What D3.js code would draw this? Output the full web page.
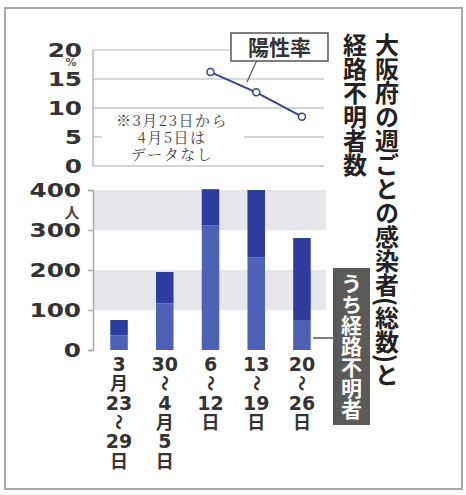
<!DOCTYPE html>
<html>
<head>
<meta charset="utf-8">
<script src="https://cdn.jsdelivr.net/npm/d3@7"></script>
<style>
  body { margin: 0; background: #fff; }
  svg text { font-family: "Noto Sans CJK JP", "DejaVu Sans", sans-serif; }
</style>
</head>
<body>
<svg id="chart" width="466" height="495"></svg>
<script>
// weekly categories (vertical labels, one entry per row)
let weeks = ['3/23-29', '3/30-4/5', '4/6-12', '4/13-19', '4/20-26']
let weekLabels = [
    ['3', '月', '23', '〜', '29', '日'],
    ['30', '〜', '4', '月', '5', '日'],
    ['6', '〜', '12', '日'],
    ['13', '〜', '19', '日'],
    ['20', '〜', '26', '日']
]
let totalCases = [75, 195, 402, 400, 280]
let unknownRoute = [37, 117, 312, 232, 75]
let positiveRate = [null, null, 16.2, 12.7, 8.5]
let rateTicks = [0, 5, 10, 15, 20]
let caseTicks = [0, 100, 200, 300, 400]

let darkBlue = '#2c3d9f'
let lightBlue = '#4d61b6'

let svg = d3.select('#chart')

// frame
svg.append('rect')
    .attr('x', 5).attr('y', 8)
    .attr('width', 457).attr('height', 481)
    .attr('fill', '#fff')
    .attr('stroke', '#a8a8a8')
    .attr('stroke-width', 2)

let x = d3.scaleBand()
    .domain(weeks)
    .range([92, 329])
    .paddingInner(0.617)
    .paddingOuter(0.4)

let yRate = d3.scaleLinear().domain([0, 20]).range([166, 50])
let yCases = d3.scaleLinear().domain([0, 400]).range([350, 190])

// ---- upper panel: positive rate ----
let upper = svg.append('g')

upper.selectAll('line.grid')
    .data(rateTicks)
    .enter().append('line')
    .attr('class', 'grid')
    .attr('x1', 93).attr('x2', 324)
    .attr('y1', d => yRate(d)).attr('y2', d => yRate(d))
    .attr('stroke', d => d >= 15 ? '#c9cbe0' : '#c4c4c4')
    .attr('stroke-width', 1.5)

upper.append('line')
    .attr('x1', 93).attr('x2', 93)
    .attr('y1', yRate(20)).attr('y2', yRate(0))
    .attr('stroke', '#b8b8b8').attr('stroke-width', 1.5)

upper.selectAll('text.tick')
    .data(rateTicks)
    .enter().append('text')
    .attr('class', 'tick')
    .attr('transform', d => 'translate(82,' + (yRate(d) + 7) + ') scale(1.3,1)')
    .attr('text-anchor', 'end')
    .attr('font-size', 19)
    .attr('font-weight', 'bold')
    .attr('fill', '#333')
    .style('font-family', 'DejaVu Sans')
    .text(d => d)

upper.append('text')
    .attr('x', 71).attr('y', 66)
    .attr('text-anchor', 'middle')
    .attr('font-size', 11)
    .attr('font-weight', 'bold')
    .attr('fill', '#555')
    .style('font-family', 'DejaVu Sans')
    .text('%')

// note about missing data
let note = ['※3月23日から', '4月5日は', 'データなし']
let noteG = upper.append('g')
noteG.append('rect')
    .attr('x', 102).attr('y', 110)
    .attr('width', 142).attr('height', 52)
    .attr('fill', '#fff')
noteG.selectAll('text')
    .data(note)
    .enter().append('text')
    .attr('x', 172)
    .attr('y', (d, i) => 126 + i * 17)
    .attr('text-anchor', 'middle')
    .attr('font-size', 15)
    .attr('letter-spacing', 1.5)
    .attr('fill', '#444')
    .style('font-family', '"Noto Serif CJK JP", "Noto Sans CJK JP", serif')
    .text(d => d)

let rateLine = d3.line()
    .defined(d => d.v !== null)
    .x(d => x(d.k) + x.bandwidth() / 2)
    .y(d => yRate(d.v))
let ratePts = weeks.map((k, i) => ({ k: k, v: positiveRate[i] }))

upper.append('path')
    .datum(ratePts)
    .attr('d', rateLine)
    .attr('fill', 'none')
    .attr('stroke', '#34448e')
    .attr('stroke-width', 2)

upper.selectAll('circle')
    .data(ratePts.filter(d => d.v !== null))
    .enter().append('circle')
    .attr('cx', d => x(d.k) + x.bandwidth() / 2)
    .attr('cy', d => yRate(d.v))
    .attr('r', 3.5)
    .attr('fill', '#fff')
    .attr('stroke', '#34448e')
    .attr('stroke-width', 1.5)

// label for the line
upper.append('line')
    .attr('x1', 257).attr('y1', 60)
    .attr('x2', 247).attr('y2', 82)
    .attr('stroke', '#555').attr('stroke-width', 1.2)
upper.append('rect')
    .attr('x', 231).attr('y', 33)
    .attr('width', 97).attr('height', 28)
    .attr('fill', '#fff')
    .attr('stroke', '#555')
    .attr('stroke-width', 1.5)
upper.append('text')
    .attr('x', 279.5).attr('y', 55)
    .attr('text-anchor', 'middle')
    .attr('font-size', 21)
    .attr('font-weight', 'bold')
    .attr('fill', '#333')
    .text('陽性率')

// ---- lower panel: weekly cases ----
let lower = svg.append('g')

lower.selectAll('rect.band')
    .data([[300, 400], [100, 200]])
    .enter().append('rect')
    .attr('class', 'band')
    .attr('x', 94)
    .attr('y', d => yCases(d[1]))
    .attr('width', 232)
    .attr('height', d => yCases(d[0]) - yCases(d[1]))
    .attr('fill', '#e6e6eb')

let yAxis = d3.axisLeft(yCases).tickValues(caseTicks).tickSize(5).tickFormat('')
lower.append('g')
    .attr('transform', 'translate(93,0)')
    .call(yAxis)
    .call(g => g.selectAll('line,path').attr('stroke', '#aaa').attr('stroke-width', 1.5))

lower.selectAll('text.tick')
    .data(caseTicks)
    .enter().append('text')
    .attr('class', 'tick')
    .attr('transform', d => 'translate(81,' + (yCases(d) + 7) + ') scale(1.3,1)')
    .attr('text-anchor', 'end')
    .attr('font-size', 19)
    .attr('font-weight', 'bold')
    .attr('fill', '#333')
    .style('font-family', 'DejaVu Sans')
    .text(d => d)

lower.append('text')
    .attr('x', 72).attr('y', 218)
    .attr('text-anchor', 'middle')
    .attr('font-size', 15)
    .attr('font-weight', 'bold')
    .attr('fill', '#444')
    .text('人')

let bars = lower.selectAll('g.bar')
    .data(weeks)
    .enter().append('g')
    .attr('class', 'bar')

bars.append('rect')
    .attr('x', d => x(d))
    .attr('width', x.bandwidth())
    .attr('y', (d, i) => yCases(totalCases[i]))
    .attr('height', (d, i) => yCases(unknownRoute[i]) - yCases(totalCases[i]))
    .attr('fill', darkBlue)

bars.append('rect')
    .attr('x', d => x(d))
    .attr('width', x.bandwidth())
    .attr('y', (d, i) => yCases(unknownRoute[i]))
    .attr('height', (d, i) => yCases(0) - yCases(unknownRoute[i]))
    .attr('fill', lightBlue)

// vertical category labels
bars.each(function(d, i) {
    let cx = x(d) + x.bandwidth() / 2
    let g = d3.select(this)
    weekLabels[i].forEach((s, j) => {
        let cy = 371 + j * 19.3
        let isDigit = /^[0-9]+$/.test(s)
        let t = g.append('text')
            .attr('text-anchor', 'middle')
            .attr('font-size', isDigit ? 19 : 18)
            .attr('font-weight', 'bold')
            .attr('fill', '#333')
            .text(s)
        if (isDigit) t.style('font-family', 'DejaVu Sans')
        if (s === '〜') {
            t.attr('transform', 'translate(' + cx + ',' + (cy - 7) + ') rotate(90)')
                .attr('dy', '0.35em')
                .attr('font-size', 16)
        } else {
            t.attr('x', cx).attr('y', cy)
        }
    })
})

// ---- titles (vertical) ----
function vText(str, xPos, yPos, size, fill) {
    return svg.append('text')
        .attr('x', xPos).attr('y', yPos)
        .attr('font-size', size)
        .attr('font-weight', 'bold')
        .attr('fill', fill)
        .style('writing-mode', 'vertical-rl')
        .text(str)
}
vText('大阪府の週ごとの感染者(総数)と', 387, 33, 24, '#222')
vText('経路不明者数', 355, 33, 24, '#222')

// legend box for the unknown-route part
svg.append('line')
    .attr('x1', 313).attr('y1', 338)
    .attr('x2', 334).attr('y2', 338)
    .attr('stroke', '#555').attr('stroke-width', 1.5)
svg.append('rect')
    .attr('x', 333).attr('y', 268)
    .attr('width', 37).attr('height', 157)
    .attr('fill', '#5a5a58')
vText('うち経路不明者', 351.5, 273, 21, '#fff')
</script>
</body>
</html>
